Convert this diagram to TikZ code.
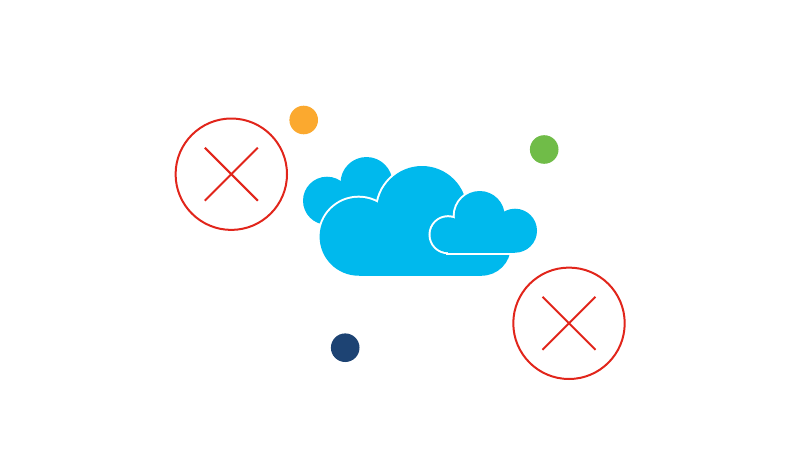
\documentclass[tikz,border=0pt]{standalone}
\usepackage{xcolor}

\definecolor{cloudblue}{HTML}{00B9ED}
\definecolor{crossred}{HTML}{E1251B}
\definecolor{dotorange}{HTML}{FBA92F}
\definecolor{dotgreen}{HTML}{70BC48}
\definecolor{dotnavy}{HTML}{1D4373}

\begin{document}
\begin{tikzpicture}[x=1pt,y=-1pt,
    cloudedge/.style={draw=white,line width=4pt},
    cloudfill/.style={fill=cloudblue},
    crossline/.style={crossred,line width=2pt}]

\useasboundingbox (0,0) rectangle (800,450);

\def\crossR{55.7}
\def\crossD{26.5}

% back of the big cloud
\fill[cloudfill] (327,200.7) circle[radius=24];
\fill[cloudfill] (366.5,183) circle[radius=26];

% big cloud: white outline first, then the blue on top
\foreach \px/\py/\pr in {358.6/236.7/39,422/211/45,481.7/246.7/29}{
  \draw[cloudedge] (\px,\py) circle[radius=\pr];
}
\foreach \px/\py/\pr in {358.6/236.7/39,422/211/45,481.7/246.7/29}{
  \fill[cloudfill] (\px,\py) circle[radius=\pr];
}
\fill[cloudfill] (358.6,236.7) rectangle (481.7,275.7);

% small cloud in front
\foreach \px/\py/\pr in {448/234.7/17.5,479.7/216/25,515/230.7/22}{
  \draw[cloudedge] (\px,\py) circle[radius=\pr];
}
\draw[cloudedge] (448,225) rectangle (515,252.5);
\foreach \px/\py/\pr in {448/234.7/17.5,479.7/216/25,515/230.7/22}{
  \fill[cloudfill] (\px,\py) circle[radius=\pr];
}
\fill[cloudfill] (448,225) rectangle (515,252.5);

% red crosses
\foreach \cx/\cy in {231.3/174.2,569/323.3}{
  \draw[crossline] (\cx,\cy) circle[radius=\crossR];
  \draw[crossline] (\cx-\crossD,\cy-\crossD) -- (\cx+\crossD,\cy+\crossD);
  \draw[crossline] (\cx-\crossD,\cy+\crossD) -- (\cx+\crossD,\cy-\crossD);
}

% dots
\fill[dotorange] (303.7,120) circle[radius=14.3];
\fill[dotgreen] (544.2,149.5) circle[radius=14.3];
\fill[dotnavy] (345.2,347.7) circle[radius=14.3];

\end{tikzpicture}
\end{document}
